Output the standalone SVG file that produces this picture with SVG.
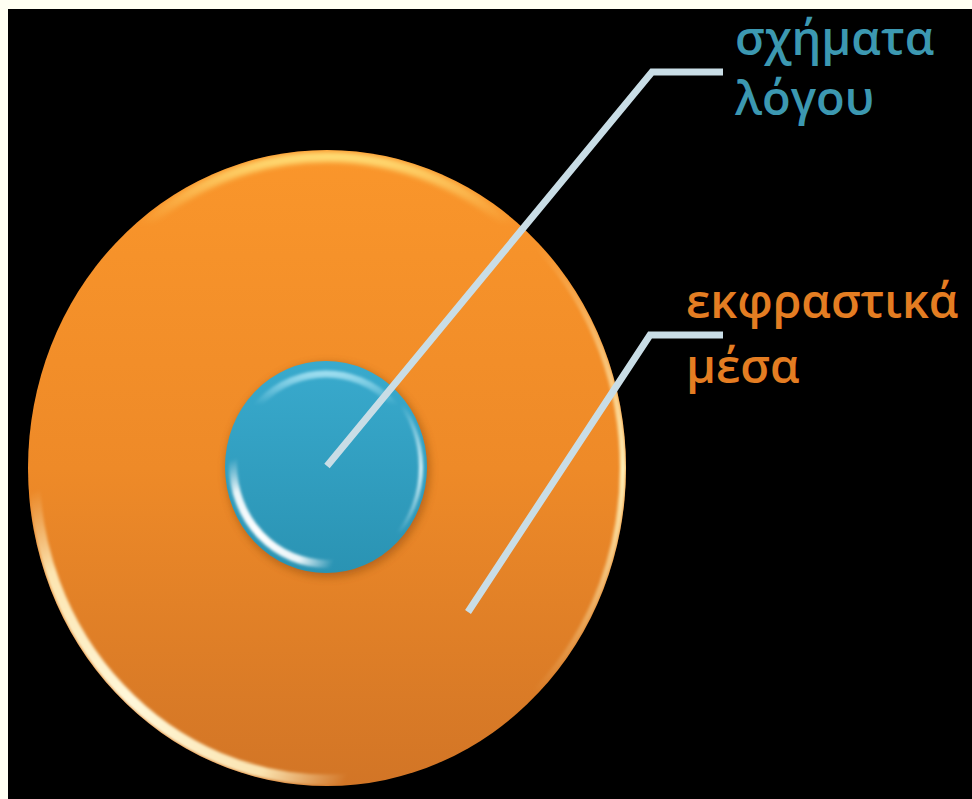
<svg xmlns="http://www.w3.org/2000/svg" width="972" height="799" viewBox="0 0 972 799">
<defs>
<linearGradient id="orangeFill" x1="0" y1="0" x2="0" y2="1">
<stop offset="0" stop-color="#FA962B"/>
<stop offset="0.5" stop-color="#EE8A28"/>
<stop offset="1" stop-color="#D27526"/>
</linearGradient>
<linearGradient id="blueFill" x1="0" y1="0" x2="0" y2="1">
<stop offset="0" stop-color="#39AACD"/>
<stop offset="1" stop-color="#2A93B3"/>
</linearGradient>
<linearGradient id="oTop" gradientUnits="userSpaceOnUse" x1="0" y1="150" x2="0" y2="225">
<stop offset="0" stop-color="#FFE27A" stop-opacity="1"/>
<stop offset="1" stop-color="#FFE27A" stop-opacity="0"/>
</linearGradient>
<radialGradient id="oBL" gradientUnits="userSpaceOnUse" cx="130" cy="700" r="230">
<stop offset="0" stop-color="#FFF8DA" stop-opacity="1"/>
<stop offset="0.65" stop-color="#FFF0C0" stop-opacity="0.9"/>
<stop offset="1" stop-color="#FFF0C0" stop-opacity="0"/>
</radialGradient>
<radialGradient id="oR" gradientUnits="userSpaceOnUse" cx="625" cy="470" r="240">
<stop offset="0" stop-color="#FFF0B8" stop-opacity="1"/>
<stop offset="1" stop-color="#FFF0B8" stop-opacity="0"/>
</radialGradient>
<linearGradient id="bTop" gradientUnits="userSpaceOnUse" x1="0" y1="362" x2="0" y2="405">
<stop offset="0" stop-color="#C8F4FF" stop-opacity="0.95"/>
<stop offset="1" stop-color="#C8F4FF" stop-opacity="0"/>
</linearGradient>
<radialGradient id="bBL" gradientUnits="userSpaceOnUse" cx="258" cy="535" r="80">
<stop offset="0" stop-color="#FFFFFF" stop-opacity="1"/>
<stop offset="0.6" stop-color="#FFFFFF" stop-opacity="0.9"/>
<stop offset="1" stop-color="#FFFFFF" stop-opacity="0"/>
</radialGradient>
<radialGradient id="bR" gradientUnits="userSpaceOnUse" cx="427" cy="470" r="70">
<stop offset="0" stop-color="#E6FAFF" stop-opacity="1"/>
<stop offset="1" stop-color="#E6FAFF" stop-opacity="0"/>
</radialGradient>
<clipPath id="clipO"><ellipse cx="327" cy="468" rx="299" ry="318"/></clipPath>
<clipPath id="clipB"><ellipse cx="326" cy="467" rx="101" ry="106"/></clipPath>
<filter id="blur2" x="-20%" y="-20%" width="140%" height="140%"><feGaussianBlur stdDeviation="2.5"/></filter>
<filter id="blur1" x="-20%" y="-20%" width="140%" height="140%"><feGaussianBlur stdDeviation="1.5"/></filter>
<filter id="shadow" x="-20%" y="-20%" width="140%" height="140%"><feGaussianBlur stdDeviation="4"/></filter>
</defs>
<style>
.lead{fill:none;stroke:#C9DDE6;stroke-width:7;stroke-linejoin:miter;stroke-linecap:butt}
.lbl{font-family:"Open Sans","Noto Sans","DejaVu Sans",sans-serif;font-size:47px;font-weight:600}
.blue{fill:#3C98B1}
.orange{fill:#E47D22}
</style>
<rect x="0" y="0" width="972" height="799" fill="#FFFFF2"/>
<rect x="8" y="9" width="964" height="790" fill="#000000"/>
<g id="outer">
<ellipse cx="327" cy="468" rx="299" ry="318" fill="url(#orangeFill)"/>
<g clip-path="url(#clipO)">
<ellipse cx="327" cy="468" rx="292" ry="311" fill="none" stroke="url(#oTop)" stroke-width="10" filter="url(#blur2)"/>
<ellipse cx="327" cy="468" rx="293" ry="312" fill="none" stroke="url(#oBL)" stroke-width="11" filter="url(#blur1)"/>
<ellipse cx="327" cy="468" rx="296" ry="315" fill="none" stroke="url(#oR)" stroke-width="6" filter="url(#blur1)"/>
</g>
</g>
<g id="inner">
<ellipse cx="328" cy="470" rx="102" ry="107" fill="#7A3E08" opacity="0.45" filter="url(#shadow)"/>
<ellipse cx="326" cy="467" rx="101" ry="106" fill="url(#blueFill)"/>
<g clip-path="url(#clipB)">
<ellipse cx="326" cy="471" rx="93" ry="97" fill="none" stroke="url(#bTop)" stroke-width="7" filter="url(#blur1)"/>
<ellipse cx="327" cy="465" rx="94" ry="99" fill="none" stroke="url(#bBL)" stroke-width="8" filter="url(#blur1)"/>
<ellipse cx="324" cy="467" rx="97" ry="103" fill="none" stroke="url(#bR)" stroke-width="4" filter="url(#blur1)"/>
</g>
</g>
<g id="connectors">
<polyline class="lead" points="327,466 652,72 723,72"/>
<polyline class="lead" points="468,612 650,335 723,335"/>
</g>
<g id="label-schimata">
<text class="lbl blue" x="735" y="55">σχήματα</text>
<text class="lbl blue" x="735" y="115">λόγου</text>
</g>
<g id="label-ekfrastika">
<text class="lbl orange" x="686" y="318">εκφραστικά</text>
<text class="lbl orange" x="686" y="383">μέσα</text>
</g>
</svg>
